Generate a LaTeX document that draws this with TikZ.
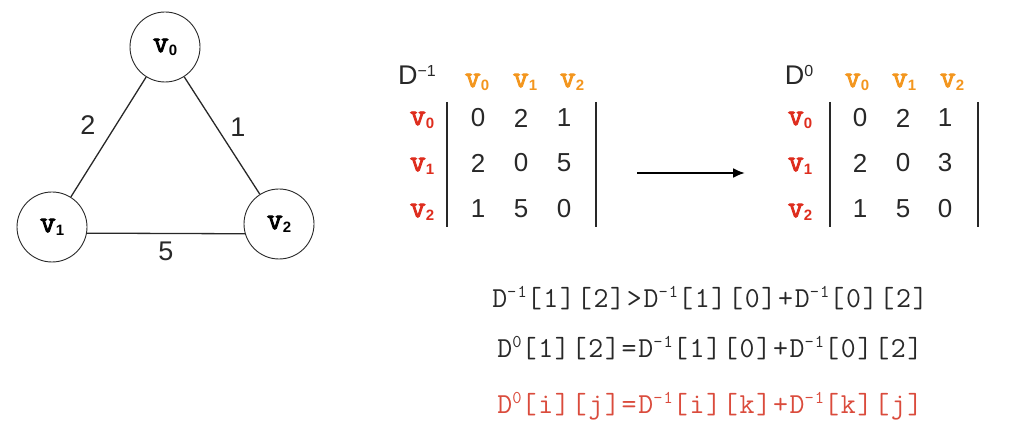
\documentclass[tikz,border=0pt]{standalone}
\usepackage{fontspec}
\setmainfont{Liberation Sans}
\newfontfamily\cour{Latin Modern Mono}[LetterSpace=6]
\newfontfamily\courb{Latin Modern Mono}[FakeBold=3]
\usetikzlibrary{arrows.meta}
\definecolor{orng}{RGB}{243,150,30}
\definecolor{rd}{RGB}{222,45,30}
\definecolor{rdl}{RGB}{218,75,60}
\definecolor{txt}{RGB}{40,40,40}
\newcommand{\vv}[1]{{\courb\fontsize{31}{31}\selectfont v}\raisebox{-3pt}{\fontsize{15}{15}\selectfont\bfseries #1}}
\newcommand{\sups}[1]{\raisebox{10pt}{\fontsize{18}{18}\selectfont #1}}
\newcommand{\dsup}[1]{\raisebox{8pt}{\fontsize{16}{16}\selectfont #1}}
\begin{document}
\begin{tikzpicture}[x=1pt,y=-1pt,
  vert/.style={circle,draw=txt,line width=0.9pt,minimum size=70pt,inner sep=0pt},
  edge/.style={line width=1.3pt,draw=txt},
  elabel/.style={font=\fontsize{27}{27}\selectfont,text=txt},
  colh/.style={text=orng},
  rowh/.style={text=rd},
  num/.style={text=txt,font=\fontsize{26}{26}\selectfont},
  dlab/.style={text=txt,font=\fontsize{27}{27}\selectfont},
  bar/.style={line width=1.4pt,draw=txt},
  eq/.style={font=\cour\fontsize{29}{29}\selectfont,inner sep=0pt}]
\useasboundingbox (0,0) rectangle (1019,427);
% graph
\node[vert] (v0) at (165,47) {\vv0};
\node[vert] (v1) at (52,227) {\vv1};
\node[vert] (v2) at (279,224) {\vv2};
\draw[edge] (v0) -- (v1);
\draw[edge] (v0) -- (v2);
\draw[edge] (v1.-10) -- (v2.196);
\node[elabel] (l2) at (88,125) {2};
\node[elabel] (l1) at (238,127) {1};
\node[elabel] (l5) at (166,251) {5};
% matrix D^-1
\node[dlab] (da) at (417,75) {D\dsup{−1}};
\node[colh] (ah0) at (477,82) {\vv0};
\node[colh] (ah1) at (525,82) {\vv1};
\node[colh] (ah2) at (572,82) {\vv2};
\node[rowh] (ar0) at (422,120) {\vv0};
\node[rowh] (ar1) at (422,166) {\vv1};
\node[rowh] (ar2) at (422,212) {\vv2};
\node[num] (a00) at (478,118) {0};
\node[num] (a01) at (521,118) {2};
\node[num] (a02) at (564,118) {1};
\node[num] (a10) at (478,163) {2};
\node[num] (a11) at (521,163) {0};
\node[num] (a12) at (564,163) {5};
\node[num] (a20) at (478,209) {1};
\node[num] (a21) at (521,209) {5};
\node[num] (a22) at (564,209) {0};
\coordinate (alt) at (447,102); \coordinate (alb) at (447,227);
\coordinate (art) at (596,102); \coordinate (arb) at (596,227);
\draw[bar] (alt) -- (alb);
\draw[bar] (art) -- (arb);
% arrow
\coordinate (arrA) at (637,173);
\coordinate (arrB) at (745,173);
\draw[line width=2.2pt,-{Latex[length=12pt,width=10pt]}] (arrA) -- (arrB);
% matrix D^0
\node[dlab] (db) at (799,75) {D\dsup{0}};
\node[colh] (bh0) at (857,82) {\vv0};
\node[colh] (bh1) at (904,82) {\vv1};
\node[colh] (bh2) at (952,82) {\vv2};
\node[rowh] (br0) at (800,120) {\vv0};
\node[rowh] (br1) at (800,166) {\vv1};
\node[rowh] (br2) at (800,212) {\vv2};
\node[num] (b00) at (860,118) {0};
\node[num] (b01) at (903,118) {2};
\node[num] (b02) at (945,118) {1};
\node[num] (b10) at (860,163) {2};
\node[num] (b11) at (903,163) {0};
\node[num] (b12) at (945,163) {3};
\node[num] (b20) at (860,209) {1};
\node[num] (b21) at (903,209) {5};
\node[num] (b22) at (945,209) {0};
\coordinate (blt) at (830,102); \coordinate (blb) at (830,227);
\coordinate (brt) at (978,102); \coordinate (brb) at (978,227);
\draw[bar] (blt) -- (blb);
\draw[bar] (brt) -- (brb);
% equations
\node[eq,text=txt] (e1) at (710,298) {D\sups{-1}[1][2]>D\sups{-1}[1][0]+D\sups{-1}[0][2]};
\node[eq,text=txt] (e2) at (710,348) {D\sups{0}[1][2]=D\sups{-1}[1][0]+D\sups{-1}[0][2]};
\node[eq,text=rdl] (e3) at (710,406) {D\sups{0}[i][j]=D\sups{-1}[i][k]+D\sups{-1}[k][j]};
\end{tikzpicture}
\end{document}
